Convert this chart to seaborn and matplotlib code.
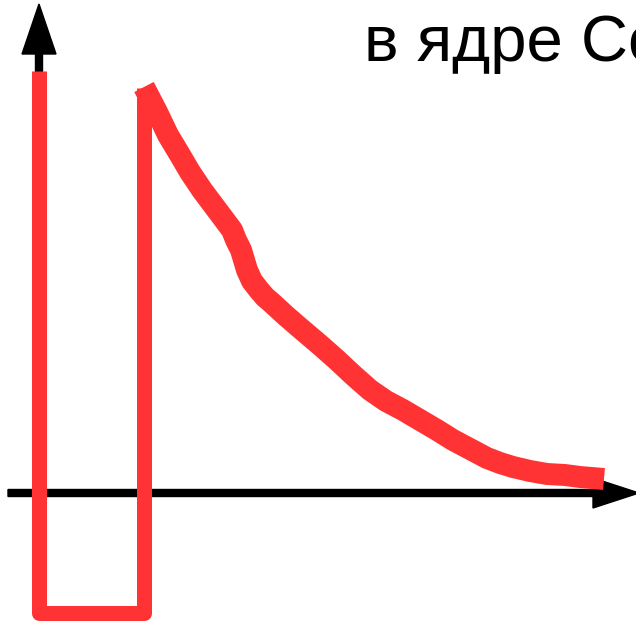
import matplotlib
matplotlib.use("Agg")
import matplotlib.pyplot as plt
import seaborn as sns

# Schematic: rectangular pulse followed by a decaying response curve
# units: 1 unit = 1 pixel, origin at the crossing of the two axes
pulse_t = [0, 0, 105, 105]
pulse_v = [422, -120, -120, 405]

decay_t = [105, 118, 129, 141, 151, 163, 178, 193, 197, 202, 205, 208, 213, 220,
           226, 233, 246, 261, 281, 298, 314, 331, 347, 364, 381, 398, 414,
           431, 448, 461, 474, 491, 508, 526, 541, 565]
decay_v = [406, 381, 358, 338, 321, 303, 283, 263, 253, 243, 233, 223, 212, 203,
           196, 190, 178, 165, 148, 133, 118, 103, 92, 83, 73, 63, 53,
           44, 35, 30, 26, 22, 19, 18, 16, 14]

title_text = "в ядре Со"

red = "#FF3333"

sns.set_theme(style="white")
plt.rcParams["font.family"] = ["Liberation Sans", "DejaVu Sans"]

fig = plt.figure(figsize=(6.36, 6.21), dpi=100)
ax = fig.add_axes([0, 0, 1, 1])
ax.set_xlim(-39, 597)
ax.set_ylim(-128, 493)
ax.axis("off")

# axes arrows
ax.arrow(0, 0, 0, 489, width=7, head_width=34, head_length=50,
         length_includes_head=True, color="black", zorder=1)
ax.arrow(-31, 0, 631, 0, width=7, head_width=30, head_length=46,
         length_includes_head=True, color="black", zorder=1)

# pulse and decay
sns.lineplot(x=pulse_t, y=pulse_v, sort=False, estimator=None, ax=ax,
             color=red, linewidth=10.8, solid_joinstyle="round",
             solid_capstyle="butt", zorder=3)
sns.lineplot(x=decay_t, y=decay_v, sort=False, estimator=None, ax=ax,
             color=red, linewidth=15.8, solid_joinstyle="round",
             solid_capstyle="butt", zorder=3)

# the label runs past the right edge, as in the original slide
ax.text(0.572, 0.902, title_text, transform=ax.transAxes, fontsize=47,
        va="baseline", ha="left", color="black")

fig.savefig("out.png", dpi=100)
